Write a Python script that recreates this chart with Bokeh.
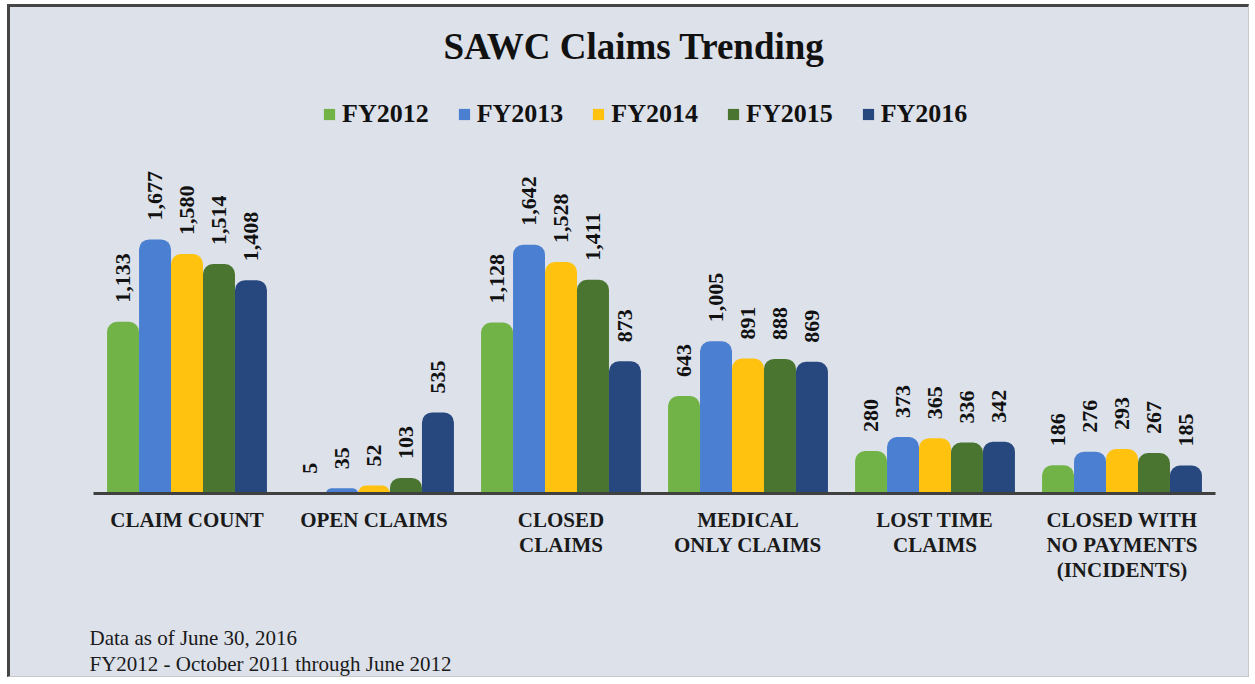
import math
from bokeh.plotting import figure
from bokeh.models import ColumnDataSource, FactorRange, Range1d, Legend, LegendItem, Title
from bokeh.transform import dodge
from bokeh.core.properties import value
from bokeh.embed import file_html
from bokeh.resources import INLINE

# ---- data ----
categories = ["CLAIM COUNT", "OPEN CLAIMS", "CLOSED\nCLAIMS", "MEDICAL\nONLY CLAIMS",
              "LOST TIME\nCLAIMS", "CLOSED WITH\nNO PAYMENTS\n(INCIDENTS)"]
years = ["FY2012", "FY2013", "FY2014", "FY2015", "FY2016"]
fy2012 = [1133, 5, 1128, 643, 280, 186]
fy2013 = [1677, 35, 1642, 1005, 373, 276]
fy2014 = [1580, 52, 1528, 891, 365, 293]
fy2015 = [1514, 103, 1411, 888, 336, 267]
fy2016 = [1408, 535, 873, 869, 342, 185]
series = [fy2012, fy2013, fy2014, fy2015, fy2016]

title_text = "SAWC Claims Trending"
notes = ["Data as of June 30, 2016", "FY2012 - October 2011 through June 2012"]

# ---- styles ----
colors = ["#72b347", "#4a7fd2", "#ffc20e", "#4a7530", "#27477f"]
BG = "#dde1ea"
SERIF = "Liberation Serif"

src = ColumnDataSource(dict(cat=categories, **{y: s for y, s in zip(years, series)},
                            **{y + "_lbl": ["{:,}".format(v) for v in s] for y, s in zip(years, series)}))

p = figure(width=1242, height=673, x_range=FactorRange(*categories), y_range=Range1d(0, 2785),
           output_backend="svg", toolbar_location=None,
           min_border_left=83, min_border_right=37, min_border_top=64, min_border_bottom=187)
p.styles = {"margin-left": "7px", "margin-top": "4px", "background-color": BG,
            "border-top": "3px solid #454545", "border-left": "3px solid #454545",
            "border-right": "1px solid #c8c8c8", "border-bottom": "1px solid #c8c8c8"}
p.background_fill_color = BG
p.border_fill_color = BG
p.outline_line_color = None
p.xgrid.visible = False
p.ygrid.visible = False
p.yaxis.visible = False

p.title.text = title_text
p.title.align = "left"
p.title.offset = 350
p.title.text_font = SERIF
p.title.text_font_style = "bold"
p.title.text_font_size = "37px"
p.title.text_color = "#111111"

bw = 0.171
offsets = [-2 * bw, -bw, 0, bw, 2 * bw]
items = []
for yr, col, off in zip(years, colors, offsets):
    r = p.vbar(x=dodge("cat", off, range=p.x_range), top=yr, width=bw, bottom=0,
               source=src, fill_color=col, line_color=None, border_radius=(10, 10, 0, 0))
    items.append(LegendItem(label=yr, renderers=[r]))
    p.text(x=dodge("cat", off, range=p.x_range), y=yr, text=yr + "_lbl", source=src,
           angle=math.pi / 2, text_align="left", text_baseline="middle", y_offset=-19,
           text_font=value(SERIF), text_font_style="bold", text_font_size="22px",
           text_color="#111111")

legend = Legend(items=items, orientation="horizontal", location=(229, 364),
                background_fill_alpha=0, border_line_color=None, margin=0, padding=0,
                glyph_width=14, glyph_height=14, label_standoff=6, spacing=28,
                label_text_font=SERIF, label_text_font_style="bold", label_text_font_size="26px",
                label_text_color="#111111")
p.add_layout(legend)

ax = p.xaxis[0]
ax.axis_line_width = 3
ax.axis_line_color = "#404040"
ax.major_tick_line_color = None
ax.minor_tick_line_color = None
ax.major_label_standoff = 8
ax.major_label_text_font = SERIF
ax.major_label_text_font_style = "bold"
ax.major_label_text_font_size = "21px"
ax.major_label_text_color = "#1a1a1a"
ax.major_label_text_line_height = 1.05
ax.major_label_orientation = "horizontal"

# blank spacer between the category labels and the footnotes
p.add_layout(Title(text=" ", standoff=14, text_font_size="21px"), "below")
for t in notes:
    p.add_layout(Title(text=t, align="left", offset=-4, standoff=0,
                       text_font=SERIF, text_font_style="normal", text_font_size="21px",
                       text_color="#1a1a1a"), "below")

open("out.html", "w").write(file_html(p, INLINE))
